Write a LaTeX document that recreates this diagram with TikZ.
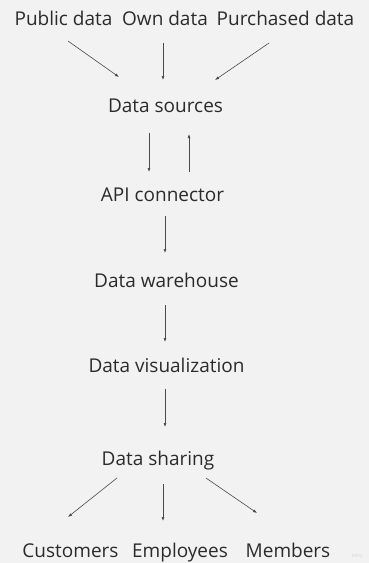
\documentclass[tikz,border=0pt]{standalone}
\usepackage{fontspec}
\setmainfont{Open Sans}
\usepackage{tikz}
\usetikzlibrary{arrows.meta}

\definecolor{bgcol}{HTML}{F2F2F2}
\definecolor{txtcol}{HTML}{2B2B2B}
\definecolor{linecol}{HTML}{4A4A4A}

\begin{document}
\begin{tikzpicture}[x=1pt,y=-1pt]
  \tikzset{stage/.style = {anchor=base,inner sep=0pt,outer sep=0pt,text height=14pt,text depth=5pt,text=txtcol,font=\fontsize{19}{22}\selectfont}}
  \tikzset{edge/.style = {draw=linecol,line width=0.6pt,-{Latex[length=4pt,width=3pt]}}}

  \fill[bgcol] (0,0) rectangle (369,563);
  \useasboundingbox (0,0) rectangle (369,563);

	\node[stage] (PD) at (63.5,25) {Public data};
	\node[stage] (OD) at (165,25) {Own data};
	\node[stage] (PU) at (285.5,25) {Purchased data};
	\node[stage] (DS) at (165.5,112) {Data sources};
	\node[stage] (API) at (162.5,201) {API connector};
	\node[stage] (DW) at (166.5,287) {Data warehouse};
	\node[stage] (DV) at (166.5,372) {Data visualization};
	\node[stage] (SH) at (158,465) {Data sharing};
	\node[stage] (CU) at (70.5,557) {Customers};
	\node[stage] (EM) at (180,557) {Employees};
	\node[stage] (ME) at (288,557) {Members};
	\node[anchor=base,inner sep=0pt,text=black!18,font=\fontsize{5}{6}\selectfont] (MI) at (357,557) {miro};

       \foreach \from/\a/\to/\b/\s/\e in {PD.south/-11.1/DS.north/-16.8/19.1/36.4,
         OD.south/-2/DS.north/-2.5/13/18,
         PU.south/2.5/DS.north/23.2/23/31.9,
         DS.south/-16.5/API.north/-13.5/16/15,
         API.north/26.5/DS.south/23.5/15/17,
         API.south/2.5/DW.north/-1.5/10/20,
         DW.south/-1.5/DV.north/-1.5/13/16,
         DV.south/-1.5/SH.north/7/12/24,
         SH.south/-31/CU.north/-35.2/12.8/41.8,
         SH.south/5/EM.north/-17/14/22,
         SH.south/36.3/ME.north/12.7/14.2/53}
    \draw[edge,shorten <=\s pt,shorten >=\e pt] ([xshift=\a pt]\from) -- ([xshift=\b pt]\to);
\end{tikzpicture}
\end{document}
